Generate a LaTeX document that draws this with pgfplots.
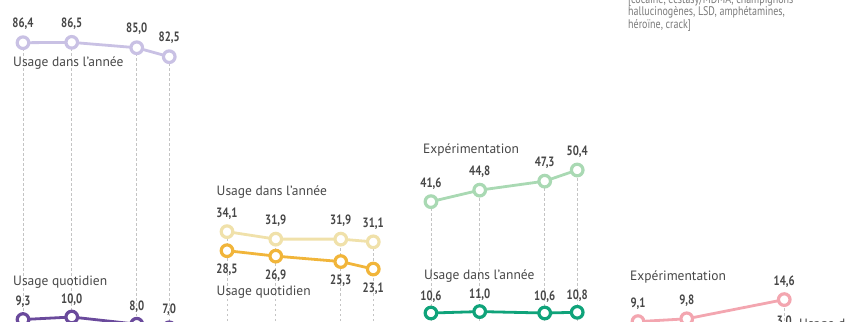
\documentclass[border=0pt]{standalone}
\usepackage{pgfplots}
\pgfplotsset{compat=1.18}
\usepackage{fontspec}
\setmainfont{PT Sans}
\newfontfamily\numfont[FakeStretch=0.8]{PT Sans}
\definecolor{lavender}{HTML}{C9C1E4}
\definecolor{darkpurple}{HTML}{6A4A9C}
\definecolor{paleyel}{HTML}{F0E1AA}
\definecolor{yel}{HTML}{F1B53A}
\definecolor{palegreen}{HTML}{A9D9B3}
\definecolor{teal}{HTML}{0FA37A}
\definecolor{pinkc}{HTML}{F3A6B0}
\definecolor{darkpink}{HTML}{E7768A}
\definecolor{txt}{HTML}{474747}
\definecolor{note}{HTML}{7A7A7A}
\definecolor{guidec}{HTML}{C4C4C4}
\pgfplotsset{
  /pgf/number format/.cd, fixed, fixed zerofill, precision=1, use comma, assume math mode=true,
  /pgfplots/.cd,
  panel/.style={at={(0pt,0pt)}, anchor=south west, scale only axis,
    width=845pt, height=321pt, hide axis, clip=false},
  ser/.style={line width=2.8pt, color=#1, mark=*, mark size=5.8pt,
    mark options={fill=white, draw=#1, line width=3.2pt, solid}},
  guide/.style={ycomb, draw=guidec, line width=0.8pt, dash pattern=on 2.5pt off 2.5pt, mark=none},
  lbl/.style={nodes near coords={\pgfmathprintnumber{\pgfplotspointmeta}},
    every node near coord/.append style={anchor=base, yshift=#1, inner sep=0pt,
      font=\numfont\bfseries\fontsize{13.5}{14}\selectfont, text=txt}},
}
\begin{document}
\begin{tikzpicture}
\path[use as bounding box, clip] (0pt,0pt) rectangle (845pt,321pt);
% Panel 1 : alcool
\begin{axis}[panel, xmin=2012.585, xmax=2064.585, ymin=8.89, ymax=98.30]
\addplot[guide] coordinates {(2014,86.4)(2017,86.5)(2021,85.0)(2023,82.5)};
\addplot[ser=lavender, lbl=15pt] coordinates {(2014,86.4)(2017,86.5)(2021,85.0)(2023,82.5)};
\addplot[ser=darkpurple, lbl=14pt] coordinates {(2014,9.3)(2017,10.0)(2021,8.0)(2023,7.0)};
\end{axis}
% Panel 2 : tabac
\begin{axis}[panel, xmin=2000.03, xmax=2052.03, ymin=7.82, ymax=102.24]
\addplot[guide] coordinates {(2014,34.1)(2017,31.9)(2021,31.9)(2023,31.1)};
\addplot[ser=paleyel, lbl=14.5pt] coordinates {(2014,34.1)(2017,31.9)(2021,31.9)(2023,31.1)};
\addplot[ser=yel, lbl=-23pt] coordinates {(2014,28.5)(2017,26.9)(2021,25.3)(2023,23.1)};
\end{axis}
% Panel 3 : cannabis
\begin{axis}[panel, xmin=1987.48, xmax=2039.48, ymin=8.38, ymax=97.72]
\addplot[guide] coordinates {(2014,41.6)(2017,44.8)(2021,47.3)(2023,50.4)};
\addplot[ser=palegreen, lbl=14.5pt] coordinates {(2014,41.6)(2017,44.8)(2021,47.3)(2023,50.4)};
\addplot[ser=teal, lbl=13pt] coordinates {(2014,10.6)(2017,11.0)(2021,10.6)(2023,10.8)};
\end{axis}
% Panel 4 : autres drogues illicites
\begin{axis}[panel, xmin=1974.74, xmax=2026.74, ymin=9.25, ymax=89.5]
\addplot[guide] coordinates {(2014,9.1)(2017,9.8)(2023,14.6)};
\addplot[ser=pinkc, lbl=14.5pt] coordinates {(2014,9.1)(2017,9.8)(2023,14.6)};
\addplot[ser=darkpink, lbl=20pt] coordinates {(2023,3.0)};
\end{axis}
% series names
\begin{scope}[every node/.style={anchor=base west, inner sep=0pt, text=txt, font=\fontsize{13.5}{14}\selectfont}]
\node at (13pt,254.5pt) {Usage dans l’année};
\node at (13pt,35pt) {Usage quotidien};
\node at (216.5pt,125pt) {Usage dans l’année};
\node at (216.5pt,25pt) {Usage quotidien};
\node at (423pt,167.7pt) {Expérimentation};
\node at (424pt,41.7pt) {Usage dans l’année};
\node at (630pt,40pt) {Expérimentation};
\node at (799pt,-7.5pt) {Usage dans l’année};
\end{scope}
\begin{scope}[every node/.style={anchor=base west, inner sep=0pt, text=note, font=\numfont\fontsize{12.5}{12.5}\selectfont}]
\node at (628pt,317.5pt) {[cocaïne, ecstasy/MDMA, champignons};
\node at (628pt,305pt) {hallucinogènes, LSD, amphétamines,};
\node at (628pt,292.5pt) {héroïne, crack]};
\end{scope}
\end{tikzpicture}
\end{document}
